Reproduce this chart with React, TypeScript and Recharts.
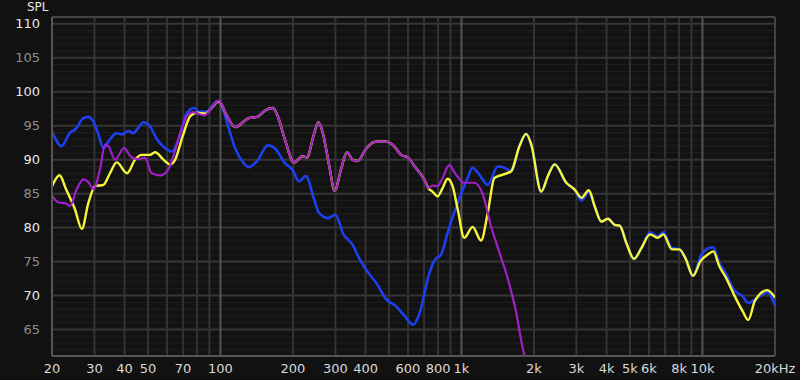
import React from "react";
import { LineChart, Line, XAxis, YAxis, ReferenceLine } from "recharts";

type Pt = { f: number; db: number };

const blueFreq = [20, 21.9, 23.8, 24.9, 27, 28.3, 29.7, 31, 32.7, 34.3, 37.1, 39, 41.6, 43.4, 47.9, 51, 54.5, 58, 62.9, 67, 72.6, 78, 81, 88, 97, 100, 106.6, 115, 123, 131, 142, 157, 170, 185, 199, 212, 226, 245, 256, 280, 300, 324, 353, 376, 400, 448, 486, 536, 581, 630, 672, 729, 777, 822, 884, 959, 1055, 1113, 1186, 1286, 1415, 1508, 1608, 1741, 1856, 1949, 2143, 2285, 2437, 2723, 2950, 3146, 3378, 3574, 3807, 4058, 4325, 4536, 4837, 5200, 5584, 6056, 6518, 6883, 7464, 8013, 8498, 9135, 9832, 10490, 11090, 11750, 12530, 13530, 14680, 15500, 16500, 18600, 20000];
const blueDb = [94.2, 92.0, 94.0, 94.4, 96.1, 96.3, 95.6, 94.0, 91.7, 92.7, 93.9, 93.7, 94.2, 93.9, 95.5, 94.9, 93.0, 91.9, 91.2, 93, 96.9, 97.6, 97.1, 97.1, 98.6, 98.4, 95.4, 91.7, 89.8, 88.9, 89.8, 92.1, 91.5, 89.5, 88.5, 86.8, 87.6, 84.1, 82.2, 81.4, 81.9, 79.0, 77.5, 75.5, 73.9, 71.6, 69.5, 68.4, 67.0, 65.7, 67.5, 72.8, 75.3, 76.0, 79.7, 83.4, 87.1, 88.8, 87.8, 86.3, 89.0, 88.8, 88.3, 92.0, 93.8, 92.2, 85.3, 87.6, 89.3, 86.6, 85.6, 84.0, 85.2, 83.1, 80.9, 81.3, 80.4, 80.3, 77.7, 75.4, 77.0, 79.3, 78.7, 79.3, 77.0, 76.8, 75.5, 72.9, 75.8, 76.9, 77.1, 74.8, 73.2, 70.8, 69.9, 68.9, 69.4, 70.5, 68.5];

// purple and yellow share the 100 Hz - 700 Hz stretch
const sharedFreq = [106.6, 115, 125, 131, 142, 154, 165, 172, 185, 202, 219, 228, 245, 255, 266, 283, 298, 316, 335, 353, 371, 400, 434, 479, 519, 562, 600, 646, 700, 729];
const sharedDb = [96.4, 94.8, 95.6, 96.1, 96.3, 97.3, 97.6, 96.6, 93.0, 89.6, 90.5, 90.3, 93.9, 95.5, 93.9, 89.0, 85.4, 88.5, 91.1, 90.0, 89.8, 91.5, 92.6, 92.7, 92.2, 90.7, 90.3, 88.8, 87.1, 85.8];

const purpleLowFreq = [20, 21.3, 22.6, 23.8, 25.3, 27, 28.3, 29.7, 31.6, 33.2, 34.3, 36.5, 39.8, 42.9, 45.6, 48.7, 51.8, 56.2, 60.1, 63.7, 68.1, 72.6, 77, 85.5, 91, 98.5];
const purpleLowDb = [84.7, 83.7, 83.6, 83.2, 85.6, 87.1, 86.7, 85.7, 88.5, 92.2, 92.0, 90.0, 91.7, 90.3, 90.1, 90.3, 88.0, 87.7, 88.3, 90.5, 93.9, 96.4, 97.0, 96.5, 97.4, 98.7];
const purpleHighFreq = [758, 796, 835, 890, 949, 1027, 1131, 1226, 1327, 1438, 1559, 1687, 1799, 1880];
const purpleHighDb = [86.2, 86.1, 87.3, 89.2, 87.8, 86.6, 86.6, 84.9, 80.2, 76.3, 72.4, 67.5, 62.1, 59.5];

const yellowLowFreq = [20, 21.5, 22.9, 24.9, 26.6, 28.3, 30.2, 32.7, 34.8, 37.1, 41, 44.2, 47.2, 51, 53.6, 58, 61.9, 64.9, 69.6, 75, 80, 86.6, 91, 98.5];
const yellowLowDb = [86.1, 87.7, 85.6, 82.7, 79.8, 83.6, 86.1, 86.3, 88.0, 89.6, 88.0, 90.0, 90.7, 90.7, 91.1, 90.0, 89.3, 90.0, 93.4, 96.4, 96.9, 96.8, 97.4, 98.6];
const yellowHighFreq = [758, 796, 835, 876, 919, 965, 1027, 1113, 1206, 1286, 1370, 1485, 1608, 1741, 1856, 1949, 2143, 2285, 2437, 2723, 2950, 3146, 3378, 3574, 3807, 4058, 4325, 4536, 4837, 5200, 5584, 6056, 6518, 6883, 7464, 8013, 8498, 9135, 9832, 10490, 11090, 11750, 12530, 13530, 14680, 15500, 16500, 18600, 20000];
const yellowHighDb = [85.3, 84.6, 85.8, 87.2, 86.1, 82.7, 78.5, 80.1, 78.1, 82.2, 87.3, 87.8, 88.3, 92.0, 93.8, 92.2, 85.3, 87.6, 89.3, 86.6, 85.6, 84.4, 85.5, 83.1, 80.9, 81.3, 80.4, 80.3, 77.7, 75.4, 77.0, 79.0, 78.5, 79.0, 76.8, 76.8, 75.5, 72.9, 75.1, 76.0, 76.5, 74.3, 72.6, 70.1, 67.7, 66.4, 69.2, 70.8, 69.7];

const xTicks = [20, 30, 40, 50, 70, 100, 200, 300, 400, 600, 800, 1000, 2000, 3000, 4000, 5000, 6000, 8000, 10000, 20000];
const xGrid = [30, 40, 50, 60, 70, 80, 90, 200, 300, 400, 500, 600, 700, 800, 900, 2000, 3000, 4000, 5000, 6000, 7000, 8000, 9000];
const xMajorGrid = [100, 1000, 10000];
const yTicks = [65, 70, 75, 80, 85, 90, 95, 100, 105, 110];
const yMinorGrid = Array.from({ length: 49 }, (_, i) => 62 + i);

const zip = (fs: number[], ds: number[]): Pt[] => fs.map((f, i) => ({ f, db: ds[i] }));

const blue = zip(blueFreq, blueDb);
const purple = [...zip(purpleLowFreq, purpleLowDb), ...zip(sharedFreq, sharedDb), ...zip(purpleHighFreq, purpleHighDb)];
const yellow = [...zip(yellowLowFreq, yellowLowDb), ...zip(sharedFreq, sharedDb), ...zip(yellowHighFreq, yellowHighDb)];

const FONT = "'DejaVu Sans', Verdana, sans-serif";

const fmtFreq = (f: number) => {
  if (f === 20000) return "20kHz";
  if (f >= 1000) return `${f / 1000}k`;
  return `${f}`;
};

function YTick({ x, y, payload }: any) {
  const major = payload.value % 10 === 0;
  return (
    <text x={x - 4} y={y} dy={4.5} textAnchor="end" fontSize={13} fontFamily={FONT} fill={major ? "#e6e6e6" : "#8f8f8f"}>
      {payload.value}
    </text>
  );
}

function XTick({ x, y, payload }: any) {
  return (
    <text x={x} y={y + 9} textAnchor="middle" fontSize={13} fontFamily={FONT} fill="#d8d8d8">
      {fmtFreq(payload.value)}
    </text>
  );
}

export default function App() {
  return (
    <div style={{ position: "fixed", left: 0, top: 0, width: 800, height: 380, background: "#111111" }}>
      <div style={{ position: "absolute", left: 27, top: 0, color: "#e6e6e6", fontSize: 12, fontFamily: FONT }}>SPL</div>
      <LineChart width={800} height={380} margin={{ top: 17, right: 25, bottom: 0, left: 2 }}>
        <rect x={52} y={17} width={723} height={339} fill="#121212" />
        <XAxis
          dataKey="f"
          type="number"
          scale="log"
          domain={[20, 20000]}
          ticks={xTicks}
          interval={0}
          height={24}
          tick={<XTick />}
          tickLine={false}
          axisLine={{ stroke: "#555", strokeWidth: 2 }}
          allowDataOverflow
        />
        <YAxis
          dataKey="db"
          type="number"
          domain={[61.1, 111]}
          ticks={yTicks}
          interval={0}
          tick={<YTick />}
          tickLine={false}
          width={50}
          axisLine={{ stroke: "#555", strokeWidth: 2 }}
          allowDataOverflow
        />
        {yMinorGrid.map((v) => (
          <ReferenceLine key={`h${v}`} y={v} stroke={v % 5 === 0 ? "#363636" : "#1f1f1f"} strokeWidth={v % 5 === 0 ? 2 : 1} />
        ))}
        {xGrid.map((v) => (
          <ReferenceLine key={`v${v}`} x={v} stroke="#333" strokeWidth={2} />
        ))}
        {xMajorGrid.map((v) => (
          <ReferenceLine key={`V${v}`} x={v} stroke="#555" strokeWidth={2} />
        ))}
        <ReferenceLine y={111} stroke="#444" strokeWidth={2} />
        <ReferenceLine x={20000} stroke="#444" strokeWidth={2} />
        <Line data={blue} dataKey="db" type="monotone" stroke="#1c3ff0" strokeWidth={2.6} dot={false} isAnimationActive={false} />
        <Line data={yellow} dataKey="db" type="monotone" stroke="#f7f73a" strokeWidth={2.4} dot={false} isAnimationActive={false} />
        <Line data={purple} dataKey="db" type="monotone" stroke="#a21fc8" strokeWidth={2.2} dot={false} isAnimationActive={false} />
      </LineChart>
    </div>
  );
}
